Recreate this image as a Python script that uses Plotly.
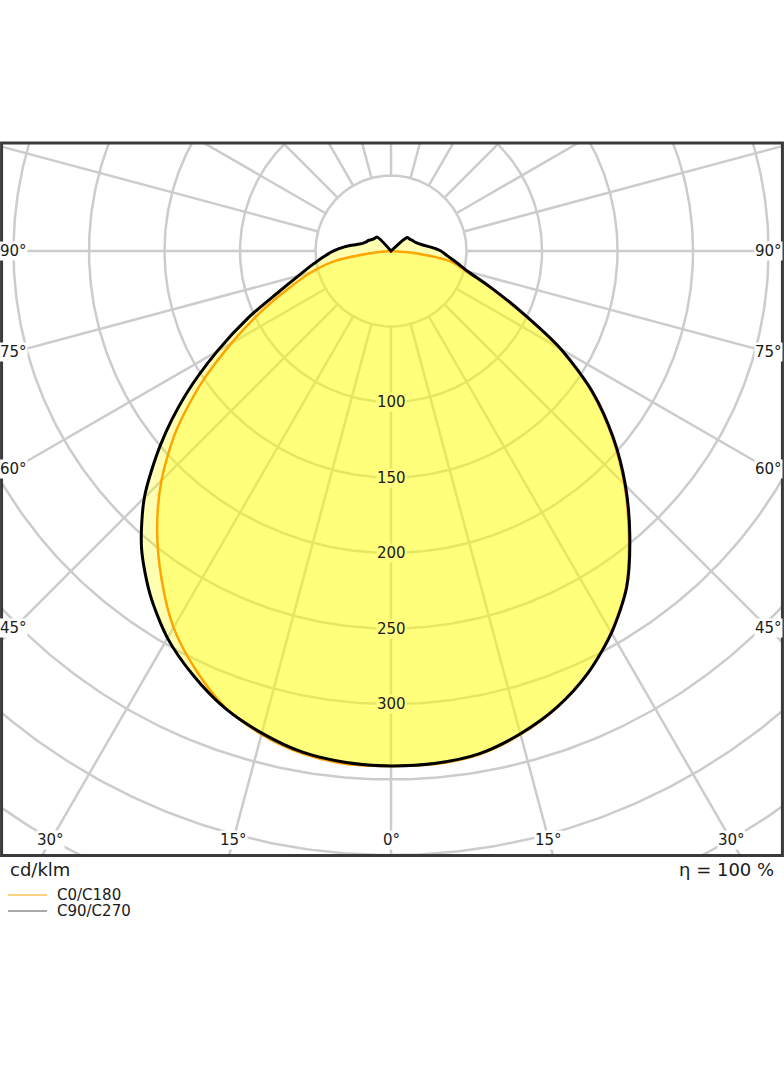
"""
Polar light distribution curve (LDC) drawn on cartesian axes
C0/C180 and C90/C270 planes, values in cd/klm
"""

import numpy as np
import plotly.graph_objects as go

# gamma angles (deg from nadir) and luminous intensity per plane (cd/klm)
GAMMA = list(range(0, 181, 5))
C0 = [341, 341, 338.5, 331.5, 321.5, 308.5, 291.5, 271.5, 245, 218.5, 191,
      162, 129, 94, 69, 51, 40, 14] + [0] * 19
C180 = [341, 341, 338, 331.5, 321.5, 306, 288, 265, 241, 215, 186,
        154, 122, 95, 72, 55, 37, 8] + [0] * 19
C90 = [341, 340.5, 338, 331, 321.5, 308.5, 292, 272, 246, 219.5, 192, 163, 130, 95,
       70, 53, 44, 37.5, 33, 27, 22, 19, 17, 16, 15, 14.5, 14] + [0] * 10
C270 = [341, 340, 337, 330.5, 322, 310, 296, 278, 257, 231, 199, 166, 133, 104,
        79, 63.5, 53, 45, 38, 31, 24, 19.5, 17.5, 16.5, 15, 14, 13.5, 13] + [0] * 9

# grid
RINGS = list(range(50, 551, 50))
RING_LABELS = [100, 150, 200, 250, 300]
SPOKES = list(range(0, 360, 15))
SIDE_LABELS = [90, 75, 60, 45]
BOTTOM_LABELS = [30, 15, 0, 15, 30]
BOTTOM_SIGNS = [-1, -1, 0, 1, 1]

ETA = 100
UNIT = 'cd/klm'

# axis window (cd/klm units around the luminaire centre)
X_RANGE = [-257.9, 259.2]
Y_RANGE = [-400.3, 71.5]

GRID_COLOR = 'rgb(204,204,204)'
FILL = 'rgba(255,255,0,0.3)'
LABEL_BG = 'rgb(255,255,125)'
FONT = 'DejaVu Sans'


def plane_xy(right, left):
    """Closed outline: right half (0..180) then left half back to nadir"""
    g = np.radians(GAMMA)
    r = np.array(right, dtype=float)
    l = np.array(left, dtype=float)
    xr, yr = r * np.sin(g), -r * np.cos(g)
    xl, yl = -l * np.sin(g), -l * np.cos(g)
    return np.concatenate([xr, xl[::-1]]), np.concatenate([yr, yl[::-1]])


fig = go.Figure()

# polar grid: rings
t = np.linspace(0, 2 * np.pi, 721)
for r in RINGS:
    fig.add_trace(go.Scatter(x=r * np.cos(t), y=r * np.sin(t), mode='lines',
                             line=dict(color=GRID_COLOR, width=2.5),
                             hoverinfo='skip', showlegend=False))

# polar grid: spokes starting at the first ring
for a in SPOKES:
    ar = np.radians(a)
    fig.add_trace(go.Scatter(x=[50 * np.sin(ar), 700 * np.sin(ar)],
                             y=[-50 * np.cos(ar), -700 * np.cos(ar)],
                             mode='lines', line=dict(color=GRID_COLOR, width=2.5),
                             hoverinfo='skip', showlegend=False))

x0, y0 = plane_xy(C0, C180)
x90, y90 = plane_xy(C90, C270)
curve = dict(shape='spline', smoothing=0.8)

# fills first, outlines on top
for xs, ys in [(x0, y0), (x90, y90)]:
    fig.add_trace(go.Scatter(x=xs, y=ys, mode='lines', fill='toself',
                             fillcolor=FILL, line=dict(width=0, **curve),
                             hoverinfo='skip', showlegend=False))

fig.add_trace(go.Scatter(x=x0, y=y0, mode='lines', name='C0/C180',
                         line=dict(color='#ffa500', width=2.5, **curve),
                         showlegend=False))
fig.add_trace(go.Scatter(x=x90, y=y90, mode='lines', name='C90/C270',
                         line=dict(color='black', width=3, **curve),
                         showlegend=False))

# ring values along the nadir axis
for v in RING_LABELS:
    fig.add_annotation(x=0, y=-v, text=str(v), showarrow=False,
                       font=dict(family=FONT, size=15, color='#1a1a1a'),
                       bgcolor=LABEL_BG, borderpad=0)

# angle labels along the frame
lab_font = dict(family=FONT, size=15, color='#1a1a1a')
side_x = X_RANGE[1] - 9.5
for a in SIDE_LABELS:
    ar = np.radians(a)
    yy = -side_x * np.cos(ar) / np.sin(ar)
    for sx in (-1, 1):
        fig.add_annotation(x=sx * side_x, y=yy, text=f'{a}°', showarrow=False,
                           font=lab_font, bgcolor='white', borderpad=0)

bottom_y = Y_RANGE[0] + 10
for a, s in zip(BOTTOM_LABELS, BOTTOM_SIGNS):
    xx = s * (-bottom_y) * np.tan(np.radians(a))
    fig.add_annotation(x=xx, y=bottom_y, text=f'{a}°', showarrow=False,
                       font=lab_font, bgcolor='white', borderpad=0)

# frame
fig.add_shape(type='rect', xref='x domain', yref='y domain', x0=0, x1=1, y0=0, y1=1,
              line=dict(color='#3a3a3a', width=3))

# footer texts
W, H = 784, 1066
fig.add_annotation(xref='paper', yref='paper', x=8 / W, y=1 - 869 / H, text=UNIT,
                   xanchor='left', yanchor='middle', showarrow=False,
                   font=dict(family=FONT, size=18, color='#1a1a1a'))
fig.add_annotation(xref='paper', yref='paper', x=776 / W, y=1 - 869 / H,
                   text=f'η = {ETA} %', xanchor='right', yanchor='middle',
                   showarrow=False, font=dict(family=FONT, size=18, color='#1a1a1a'))

# hand-made legend
for i, (name, col) in enumerate([('C0/C180', '#ffa500'), ('C90/C270', '#555555')]):
    ly = 1 - (895 + 16 * i) / H
    fig.add_shape(type='line', xref='paper', yref='paper', x0=8 / W, x1=47 / W,
                  y0=ly, y1=ly, line=dict(color=col, width=1))
    fig.add_annotation(xref='paper', yref='paper', x=55 / W, y=ly, text=name,
                       xanchor='left', yanchor='middle', showarrow=False,
                       font=dict(family=FONT, size=15, color='#1a1a1a'))

fig.update_xaxes(range=X_RANGE, domain=[0.002, 0.998], visible=False,
                 showgrid=False, zeroline=False, fixedrange=True)
fig.update_yaxes(range=Y_RANGE, domain=[1 - 855.5 / H, 1 - 143 / H], visible=False,
                 showgrid=False, zeroline=False, fixedrange=True)

fig.update_layout(width=W, height=H, margin=dict(l=0, r=0, t=0, b=0),
                  paper_bgcolor='white', plot_bgcolor='white', showlegend=False)

# page body has a default 8px margin, drop it so the figure sits at 0,0
fig.write_html('out.html', config={'displayModeBar': False},
               post_script="document.body.style.margin='0';"
                           "document.body.style.overflow='hidden';")
print('saved out.html')
